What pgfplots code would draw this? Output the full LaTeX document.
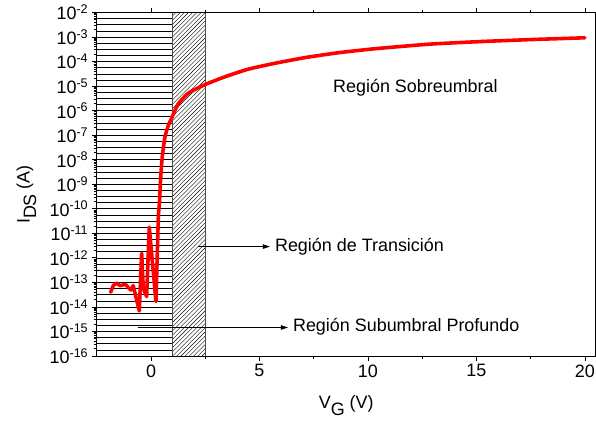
\documentclass[border=0pt]{standalone}
\usepackage{fontspec}
\setmainfont{Liberation Sans}
\usepackage{pgfplots}
\pgfplotsset{compat=1.18}
\usetikzlibrary{arrows.meta}

\newcommand{\ex}[1]{10\textsuperscript{#1}}
\newcommand{\lblfont}{\fontsize{18}{20}\selectfont}

\begin{document}
\begin{tikzpicture}
\useasboundingbox (-96.75bp,-66bp) rectangle (499.25bp,356bp);
\begin{axis}[
  at={(0,0)}, anchor=south west,
  scale only axis, width=499bp, height=343.5bp,
  xmin=-2.5, xmax=20.5,
  ymode=log, ymin=1e-16, ymax=1e-2,
  xtick={0,5,10,15,20}, minor x tick num=1,
  ytick={1e-16,1e-15,1e-14,1e-13,1e-12,1e-11,1e-10,1e-9,1e-8,1e-7,1e-6,1e-5,1e-4,1e-3,1e-2},
  yticklabels={\ex{-16},\ex{-15},\ex{-14},\ex{-13},\ex{-12},\ex{-11},\ex{-10},\ex{-9},\ex{-8},\ex{-7},\ex{-6},\ex{-5},\ex{-4},\ex{-3},\ex{-2}},
  tick align=outside,
  major tick length=5bp, minor tick length=3bp,
  axis line style={line width=0.9pt},
  every tick/.style={black, line width=0.8pt},
  tick label style={font=\lblfont},
  /pgf/number format/assume math mode=true,
  xlabel={V\raisebox{-0.36em}{G} (V)},
  ylabel={I\raisebox{-0.36em}{DS} (A)},
  label style={font=\lblfont},
  xlabel style={at={(axis description cs:0.5,-0.145)}, anchor=center},
  ylabel style={at={(axis description cs:-0.141,0.47)}, anchor=center},
]

% deep subthreshold region: horizontal hatch, 56 equal steps over the height
\pgfplotsinvokeforeach{1,...,55}{
  \draw[black, line width=0.6pt]
    (axis description cs:0,{#1/56}) -- (axis description cs:0.15217,{#1/56});
}
% transition region: diagonal hatch at 45 degrees, clipped to the band
\begin{scope}
  \clip (axis cs:1,1e-16) rectangle (axis cs:2.5,1e-2);
  \pgfplotsinvokeforeach{0,...,95}{
    \draw[black, line width=0.4pt]
      (axis description cs:{(4.2*#1-304.07)/499},-0.03) --
      (axis description cs:{(4.2*#1+115.93)/499},1.1927);
  }
\end{scope}
% region borders
\draw[gray!60!black, line width=1.1pt] (axis cs:1,1e-16) -- (axis cs:1,1e-2);
\draw[gray!60!black, line width=1.1pt] (axis cs:2.5,1e-16) -- (axis cs:2.5,1e-2);

% measured transfer curve: noisy off-state part
\addplot[red, line width=3.6pt, line join=round, line cap=round] coordinates {
  (-1.86,3.98e-14) (-1.74,7.41e-14) (-1.58,9.33e-14) (-1.43,7.41e-14)
  (-1.28,7.94e-14) (-1.15,7.94e-14) (-1.05,6.17e-14) (-0.92,4.90e-14)
  (-0.82,7.41e-14) (-0.54,6.92e-15) (-0.43,1.55e-12) (-0.355,5.75e-14)
  (-0.20,2.63e-14) (-0.08,1.78e-11) (0.23,1.66e-14) (0.34,5.62e-11)
};
% turn-on and above-threshold part
\addplot[red, line width=3.6pt, line join=round, line cap=round, smooth, tension=0.35] coordinates {
  (0.34,5.62e-11) (0.39,1.78e-10) (0.45,2.04e-9) (0.52,1.32e-8)
  (0.645,8.51e-8) (0.80,2.51e-7) (0.954,5.01e-7) (1.106,1.02e-6)
  (1.258,1.91e-6) (1.719,5.13e-6) (2.488,1.15e-5) (3.41,2.40e-5)
  (4.48,4.90e-5) (5.71,8.51e-5) (7.10,1.45e-4) (8.63,2.29e-4)
  (10.17,3.24e-4) (11.71,4.27e-4) (13.01,5.25e-4) (15.31,6.61e-4)
  (17.62,7.94e-4) (20.0,9.33e-4)
};

% region annotations
\draw[-{Triangle[length=7bp,width=4.5bp]}, line width=0.7pt]
  (axis cs:2.17,2.88e-12) -- (axis cs:5.48,2.88e-12);
\node[anchor=base west, font=\lblfont, inner sep=0pt] at (axis cs:5.71,1.78e-12) {Región de Transición};
\draw[-{Triangle[length=7bp,width=4.5bp]}, line width=0.7pt]
  (axis cs:-0.6,1.45e-15) -- (axis cs:6.31,1.45e-15);
\node[anchor=base west, font=\lblfont, inner sep=0pt] at (axis cs:6.54,9.77e-16) {Región Subumbral Profundo};
\node[anchor=base west, font=\lblfont, inner sep=0pt] at (axis cs:8.39,5.37e-6) {Región Sobreumbral};
\end{axis}
\end{tikzpicture}
\end{document}
